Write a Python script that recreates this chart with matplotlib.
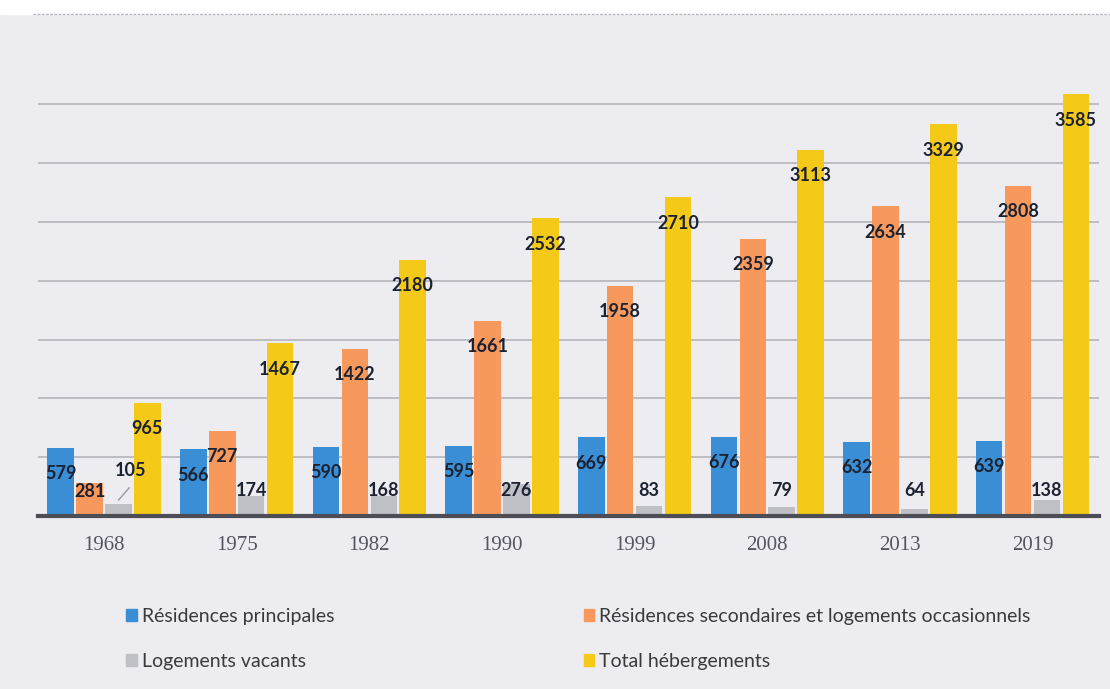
import numpy as np
import matplotlib
matplotlib.use("Agg")
from matplotlib import pyplot as plt
from matplotlib.patches import Rectangle, Patch
from matplotlib.lines import Line2D

years = ['1968', '1975', '1982', '1990', '1999', '2008', '2013', '2019']
principales = [579, 566, 590, 595, 669, 676, 632, 639]
secondaires = [281, 727, 1422, 1661, 1958, 2359, 2634, 2808]
vacants = [105, 174, 168, 276, 83, 79, 64, 138]
total = [965, 1467, 2180, 2532, 2710, 3113, 3329, 3585]

names = ['Résidences principales',
         'Résidences secondaires et logements occasionnels',
         'Logements vacants',
         'Total hébergements']
colors = ['#3a8ed6', '#f7995c', '#bfbfc6', '#f5c918']
label_color = '#1c2230'

fig = plt.figure(figsize=(11.1, 6.89), dpi=100, facecolor='#ececf1')
# white strip at the top of the scan, with the chart border under it
fig.patches.append(Rectangle((0, 0.979), 1, 0.021, transform=fig.transFigure,
                             color='white', zorder=0))
fig.lines.append(Line2D([0.03, 1], [0.979, 0.979], transform=fig.transFigure,
                        color='#b8b8c4', lw=1, ls=(0, (2, 1))))

ax = fig.add_axes([0.034, 0.251, 0.956, 0.683])
ax.set_facecolor('none')

x = np.arange(len(years))
step = 0.218
w = 0.2
series = [principales, secondaires, vacants, total]

for i, (vals, c) in enumerate(zip(series, colors)):
    xs = x + (i - 1.5) * step
    ax.bar(xs, vals, w, color=c, zorder=2)
    for j, v in enumerate(vals):
        if i == 2:
            # small bars: labels sit above
            if j == 0:
                ax.plot([xs[j], xs[j] + 0.08], [136, 240], color='#9a9aa2', lw=1, zorder=3)
                ax.text(xs[j] + 0.09, 390, str(v), ha='center', va='center',
                        fontsize=13, fontweight='bold', color=label_color,
                        family='Lato', zorder=4)
                continue
            ly = 220
        else:
            ly = max(v - 220, 212)
        ax.text(xs[j], ly, str(v), ha='center', va='center', fontsize=13,
                fontweight='bold', color=label_color, family='Lato', zorder=4)

ax.set_xlim(-0.5, len(years) - 0.5)
ax.set_ylim(0, 4000)
ax.set_yticks(range(0, 3501, 500))
ax.yaxis.grid(True, color='#b4b4bc', lw=1.2, zorder=0)
ax.set_axisbelow(True)
ax.tick_params(axis='y', left=False, labelleft=False)
ax.set_xticks(x, years)
ax.tick_params(axis='x', length=0, pad=14, labelsize=15, labelcolor='#555560')
for lab in ax.get_xticklabels():
    lab.set_family('Liberation Serif')
for s in ax.spines.values():
    s.set_visible(False)
ax.axhline(0, color='#4d4d55', lw=3, zorder=3, clip_on=False)

leg_kw = dict(frameon=False, handlelength=0.55, handleheight=0.55,
              handletextpad=0.25, labelspacing=1.45, labelcolor='#3a3a3a',
              prop={'family': 'Lato', 'size': 14}, loc='upper left')
h = [Patch(color=c) for c in colors]
fig.legend([h[0], h[2]], [names[0], names[2]], bbox_to_anchor=(0.098, 0.143), **leg_kw)
fig.legend([h[1], h[3]], [names[1], names[3]], bbox_to_anchor=(0.510, 0.143), **leg_kw)

fig.savefig('out.png', dpi=100, facecolor=fig.get_facecolor())
